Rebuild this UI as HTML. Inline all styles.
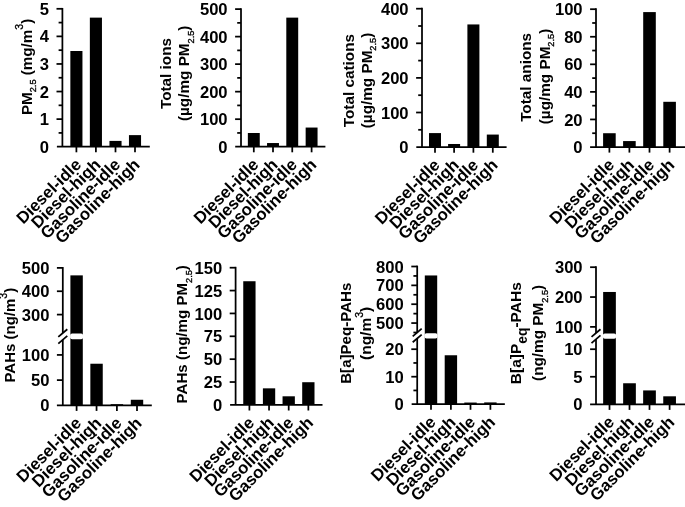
<!DOCTYPE html>
<html><head><meta charset="utf-8"><title>Figure</title>
<style>
html,body{margin:0;padding:0;background:#fff;overflow:hidden;}
svg{display:block;}
.ax{stroke:#000;stroke-width:1.75;fill:none;}
rect{fill:#000;}
rect.gap{fill:#fff;}
text{font-family:"Liberation Sans",sans-serif;font-weight:bold;fill:#000;}
.tl{text-anchor:end;}
.xl{text-anchor:end;}
.tt{text-anchor:middle;}
.sub,.sup{font-weight:normal;stroke:#000;stroke-width:0.35;}
.sub2{font-weight:bold;}
</style></head><body>
<svg width="685" height="507" viewBox="0 0 685 507">
<rect x="0" y="0" width="685" height="507" style="fill:#fff"/>
<g>
<line x1="56.9" y1="146.7" x2="149.8" y2="146.7" class="ax"/>
<line x1="62.4" y1="146.7" x2="62.4" y2="7.93" class="ax"/>
<text x="49" y="152.8" class="tl" font-size="16.6">0</text>
<line x1="56.5" y1="119.12" x2="62.4" y2="119.12" class="ax"/>
<text x="49" y="125.22" class="tl" font-size="16.6">1</text>
<line x1="56.5" y1="91.54" x2="62.4" y2="91.54" class="ax"/>
<text x="49" y="97.64" class="tl" font-size="16.6">2</text>
<line x1="56.5" y1="63.96" x2="62.4" y2="63.96" class="ax"/>
<text x="49" y="70.06" class="tl" font-size="16.6">3</text>
<line x1="56.5" y1="36.38" x2="62.4" y2="36.38" class="ax"/>
<text x="49" y="42.48" class="tl" font-size="16.6">4</text>
<line x1="56.5" y1="8.8" x2="62.4" y2="8.8" class="ax"/>
<text x="49" y="14.9" class="tl" font-size="16.6">5</text>
<line x1="58.6" y1="132.91" x2="62.4" y2="132.91" class="ax"/>
<line x1="58.6" y1="105.33" x2="62.4" y2="105.33" class="ax"/>
<line x1="58.6" y1="77.75" x2="62.4" y2="77.75" class="ax"/>
<line x1="58.6" y1="50.17" x2="62.4" y2="50.17" class="ax"/>
<line x1="58.6" y1="22.59" x2="62.4" y2="22.59" class="ax"/>
<line x1="76.4" y1="146.7" x2="76.4" y2="152.3" class="ax"/>
<rect x="70.35" y="51" width="12.1" height="95.7"/>
<text transform="translate(82.2 165.7) rotate(-45)" class="xl" font-size="16.7">Diesel-idle</text>
<line x1="95.9" y1="146.7" x2="95.9" y2="152.3" class="ax"/>
<rect x="89.85" y="17.63" width="12.1" height="129.07"/>
<text transform="translate(101.7 165.7) rotate(-45)" class="xl" font-size="16.7">Diesel-high</text>
<line x1="115.5" y1="146.7" x2="115.5" y2="152.3" class="ax"/>
<rect x="109.45" y="140.91" width="12.1" height="5.79"/>
<text transform="translate(121.3 165.7) rotate(-45)" class="xl" font-size="16.7">Gasoline-idle</text>
<line x1="135" y1="146.7" x2="135" y2="152.3" class="ax"/>
<rect x="128.95" y="135.12" width="12.1" height="11.58"/>
<text transform="translate(140.8 165.7) rotate(-45)" class="xl" font-size="16.7">Gasoline-high</text>
<text transform="translate(31.5 66.9) rotate(-90)" class="tt" font-size="15.2">PM<tspan class="sub" font-size="9.2" dy="4.6">2.5</tspan><tspan dy="-4.6"> (mg/m</tspan><tspan class="sup" font-size="10.5" dy="-8.5">3</tspan><tspan dy="8.5">)</tspan></text>
</g>
<g>
<line x1="235.2" y1="146.7" x2="325.4" y2="146.7" class="ax"/>
<line x1="241" y1="146.7" x2="241" y2="8.22" class="ax"/>
<text x="227.6" y="152.8" class="tl" font-size="16.6">0</text>
<line x1="235.1" y1="119.18" x2="241" y2="119.18" class="ax"/>
<text x="227.6" y="125.28" class="tl" font-size="16.6">100</text>
<line x1="235.1" y1="91.66" x2="241" y2="91.66" class="ax"/>
<text x="227.6" y="97.76" class="tl" font-size="16.6">200</text>
<line x1="235.1" y1="64.14" x2="241" y2="64.14" class="ax"/>
<text x="227.6" y="70.24" class="tl" font-size="16.6">300</text>
<line x1="235.1" y1="36.62" x2="241" y2="36.62" class="ax"/>
<text x="227.6" y="42.72" class="tl" font-size="16.6">400</text>
<line x1="235.1" y1="9.1" x2="241" y2="9.1" class="ax"/>
<text x="227.6" y="15.2" class="tl" font-size="16.6">500</text>
<line x1="237.2" y1="132.94" x2="241" y2="132.94" class="ax"/>
<line x1="237.2" y1="105.42" x2="241" y2="105.42" class="ax"/>
<line x1="237.2" y1="77.9" x2="241" y2="77.9" class="ax"/>
<line x1="237.2" y1="50.38" x2="241" y2="50.38" class="ax"/>
<line x1="237.2" y1="22.86" x2="241" y2="22.86" class="ax"/>
<line x1="253.8" y1="146.7" x2="253.8" y2="152.3" class="ax"/>
<rect x="247.85" y="133" width="11.9" height="13.7"/>
<text transform="translate(259.6 165.7) rotate(-45)" class="xl" font-size="16.7">Diesel-idle</text>
<line x1="273" y1="146.7" x2="273" y2="152.3" class="ax"/>
<rect x="267.05" y="143.04" width="11.9" height="3.66"/>
<text transform="translate(278.8 165.7) rotate(-45)" class="xl" font-size="16.7">Diesel-high</text>
<line x1="292.25" y1="146.7" x2="292.25" y2="152.3" class="ax"/>
<rect x="286.3" y="17.63" width="11.9" height="129.07"/>
<text transform="translate(298.05 165.7) rotate(-45)" class="xl" font-size="16.7">Gasoline-idle</text>
<line x1="311.6" y1="146.7" x2="311.6" y2="152.3" class="ax"/>
<rect x="305.65" y="127.55" width="11.9" height="19.15"/>
<text transform="translate(317.4 165.7) rotate(-45)" class="xl" font-size="16.7">Gasoline-high</text>
<text transform="translate(171 73.5) rotate(-90)" class="tt" font-size="15.3">Total ions</text>
<text transform="translate(189.2 73.3) rotate(-90)" class="tt" font-size="15.3">(µg/mg PM<tspan class="sub" font-size="9.2" dy="4.6">2.5</tspan><tspan dy="-4.6">)</tspan></text>
</g>
<g>
<line x1="416.3" y1="147.1" x2="506.6" y2="147.1" class="ax"/>
<line x1="422" y1="147.1" x2="422" y2="7.82" class="ax"/>
<text x="408.6" y="153.2" class="tl" font-size="16.6">0</text>
<line x1="416.1" y1="112.5" x2="422" y2="112.5" class="ax"/>
<text x="408.6" y="118.6" class="tl" font-size="16.6">100</text>
<line x1="416.1" y1="77.9" x2="422" y2="77.9" class="ax"/>
<text x="408.6" y="84" class="tl" font-size="16.6">200</text>
<line x1="416.1" y1="43.3" x2="422" y2="43.3" class="ax"/>
<text x="408.6" y="49.4" class="tl" font-size="16.6">300</text>
<line x1="416.1" y1="8.7" x2="422" y2="8.7" class="ax"/>
<text x="408.6" y="14.8" class="tl" font-size="16.6">400</text>
<line x1="418.2" y1="129.8" x2="422" y2="129.8" class="ax"/>
<line x1="418.2" y1="95.2" x2="422" y2="95.2" class="ax"/>
<line x1="418.2" y1="60.6" x2="422" y2="60.6" class="ax"/>
<line x1="418.2" y1="26" x2="422" y2="26" class="ax"/>
<line x1="435" y1="147.1" x2="435" y2="152.7" class="ax"/>
<rect x="429" y="133.09" width="12" height="14.01"/>
<text transform="translate(440.8 166.1) rotate(-45)" class="xl" font-size="16.7">Diesel-idle</text>
<line x1="454.1" y1="147.1" x2="454.1" y2="152.7" class="ax"/>
<rect x="448.1" y="143.99" width="12" height="3.11"/>
<text transform="translate(459.9 166.1) rotate(-45)" class="xl" font-size="16.7">Diesel-high</text>
<line x1="473.4" y1="147.1" x2="473.4" y2="152.7" class="ax"/>
<rect x="467.4" y="24.44" width="12" height="122.66"/>
<text transform="translate(479.2 166.1) rotate(-45)" class="xl" font-size="16.7">Gasoline-idle</text>
<line x1="492.8" y1="147.1" x2="492.8" y2="152.7" class="ax"/>
<rect x="486.8" y="134.57" width="12" height="12.53"/>
<text transform="translate(498.6 166.1) rotate(-45)" class="xl" font-size="16.7">Gasoline-high</text>
<text transform="translate(353.8 80.6) rotate(-90)" class="tt" font-size="15.3">Total cations</text>
<text transform="translate(371.7 80.5) rotate(-90)" class="tt" font-size="15.3">(µg/mg PM<tspan class="sub" font-size="9.2" dy="4.6">2.5</tspan><tspan dy="-4.6">)</tspan></text>
</g>
<g>
<line x1="590.1" y1="147" x2="690" y2="147" class="ax"/>
<line x1="596" y1="147" x2="596" y2="8.32" class="ax"/>
<text x="582.6" y="153.1" class="tl" font-size="16.6">0</text>
<line x1="590.1" y1="119.44" x2="596" y2="119.44" class="ax"/>
<text x="582.6" y="125.54" class="tl" font-size="16.6">20</text>
<line x1="590.1" y1="91.88" x2="596" y2="91.88" class="ax"/>
<text x="582.6" y="97.98" class="tl" font-size="16.6">40</text>
<line x1="590.1" y1="64.32" x2="596" y2="64.32" class="ax"/>
<text x="582.6" y="70.42" class="tl" font-size="16.6">60</text>
<line x1="590.1" y1="36.76" x2="596" y2="36.76" class="ax"/>
<text x="582.6" y="42.86" class="tl" font-size="16.6">80</text>
<line x1="590.1" y1="9.2" x2="596" y2="9.2" class="ax"/>
<text x="582.6" y="15.3" class="tl" font-size="16.6">100</text>
<line x1="592.2" y1="133.22" x2="596" y2="133.22" class="ax"/>
<line x1="592.2" y1="105.66" x2="596" y2="105.66" class="ax"/>
<line x1="592.2" y1="78.1" x2="596" y2="78.1" class="ax"/>
<line x1="592.2" y1="50.54" x2="596" y2="50.54" class="ax"/>
<line x1="592.2" y1="22.98" x2="596" y2="22.98" class="ax"/>
<line x1="609.4" y1="147" x2="609.4" y2="152.6" class="ax"/>
<rect x="603.1" y="133.22" width="12.6" height="13.78"/>
<text transform="translate(615.2 166) rotate(-45)" class="xl" font-size="16.7">Diesel-idle</text>
<line x1="629.4" y1="147" x2="629.4" y2="152.6" class="ax"/>
<rect x="623.1" y="141.07" width="12.6" height="5.93"/>
<text transform="translate(635.2 166) rotate(-45)" class="xl" font-size="16.7">Diesel-high</text>
<line x1="649.5" y1="147" x2="649.5" y2="152.6" class="ax"/>
<rect x="643.2" y="12.09" width="12.6" height="134.91"/>
<text transform="translate(655.3 166) rotate(-45)" class="xl" font-size="16.7">Gasoline-idle</text>
<line x1="669.6" y1="147" x2="669.6" y2="152.6" class="ax"/>
<rect x="663.3" y="101.8" width="12.6" height="45.2"/>
<text transform="translate(675.4 166) rotate(-45)" class="xl" font-size="16.7">Gasoline-high</text>
<text transform="translate(530.7 77.4) rotate(-90)" class="tt" font-size="15.3">Total anions</text>
<text transform="translate(549.5 76.5) rotate(-90)" class="tt" font-size="15.3">(µg/mg PM<tspan class="sub" font-size="9.2" dy="4.6">2.5</tspan><tspan dy="-4.6">)</tspan></text>
</g>
<g>
<line x1="56.9" y1="405.3" x2="151.8" y2="405.3" class="ax"/>
<line x1="62.8" y1="405.3" x2="62.8" y2="339.7" class="ax"/>
<text x="49.4" y="411.4" class="tl" font-size="16.6">0</text>
<line x1="56.9" y1="380.11" x2="62.8" y2="380.11" class="ax"/>
<text x="49.4" y="386.21" class="tl" font-size="16.6">50</text>
<line x1="56.9" y1="354.92" x2="62.8" y2="354.92" class="ax"/>
<text x="49.4" y="361.02" class="tl" font-size="16.6">100</text>
<line x1="62.8" y1="333" x2="62.8" y2="267.02" class="ax"/>
<line x1="56.9" y1="314.6" x2="62.8" y2="314.6" class="ax"/>
<text x="49.4" y="320.7" class="tl" font-size="16.6">300</text>
<line x1="56.9" y1="291.25" x2="62.8" y2="291.25" class="ax"/>
<text x="49.4" y="297.35" class="tl" font-size="16.6">400</text>
<line x1="56.9" y1="267.9" x2="62.8" y2="267.9" class="ax"/>
<text x="49.4" y="274" class="tl" font-size="16.6">500</text>
<line x1="76.6" y1="405.3" x2="76.6" y2="410.9" class="ax"/>
<rect x="70.4" y="275.37" width="12.4" height="129.93"/>
<rect x="70.1" y="333.6" width="13" height="5.7" rx="2" class="gap"/>
<text transform="translate(82.4 424.3) rotate(-45)" class="xl" font-size="16.7">Diesel-idle</text>
<line x1="96.55" y1="405.3" x2="96.55" y2="410.9" class="ax"/>
<rect x="90.35" y="363.73" width="12.4" height="41.57"/>
<text transform="translate(102.35 424.3) rotate(-45)" class="xl" font-size="16.7">Diesel-high</text>
<line x1="116.9" y1="405.3" x2="116.9" y2="410.9" class="ax"/>
<rect x="110.7" y="404.19" width="12.4" height="1.11"/>
<text transform="translate(122.7 424.3) rotate(-45)" class="xl" font-size="16.7">Gasoline-idle</text>
<line x1="137" y1="405.3" x2="137" y2="410.9" class="ax"/>
<rect x="130.8" y="399.76" width="12.4" height="5.54"/>
<text transform="translate(142.8 424.3) rotate(-45)" class="xl" font-size="16.7">Gasoline-high</text>
<line x1="58.3" y1="336.95" x2="67.3" y2="329.25" class="ax"/>
<line x1="58.3" y1="343.55" x2="67.3" y2="335.85" class="ax"/>
<text transform="translate(15.2 335.2) rotate(-90)" class="tt" font-size="15">PAHs (ng/m<tspan class="sup" font-size="10.5" dy="-8.5">3</tspan><tspan dy="8.5">)</tspan></text>
</g>
<g>
<line x1="230.1" y1="404.9" x2="322.5" y2="404.9" class="ax"/>
<line x1="235.6" y1="404.9" x2="235.6" y2="266.82" class="ax"/>
<text x="222.2" y="411" class="tl" font-size="16.6">0</text>
<line x1="229.7" y1="382.03" x2="235.6" y2="382.03" class="ax"/>
<text x="222.2" y="388.13" class="tl" font-size="16.6">25</text>
<line x1="229.7" y1="359.17" x2="235.6" y2="359.17" class="ax"/>
<text x="222.2" y="365.27" class="tl" font-size="16.6">50</text>
<line x1="229.7" y1="336.3" x2="235.6" y2="336.3" class="ax"/>
<text x="222.2" y="342.4" class="tl" font-size="16.6">75</text>
<line x1="229.7" y1="313.43" x2="235.6" y2="313.43" class="ax"/>
<text x="222.2" y="319.53" class="tl" font-size="16.6">100</text>
<line x1="229.7" y1="290.57" x2="235.6" y2="290.57" class="ax"/>
<text x="222.2" y="296.67" class="tl" font-size="16.6">125</text>
<line x1="229.7" y1="267.7" x2="235.6" y2="267.7" class="ax"/>
<text x="222.2" y="273.8" class="tl" font-size="16.6">150</text>
<line x1="249.4" y1="404.9" x2="249.4" y2="410.5" class="ax"/>
<rect x="243.25" y="281.24" width="12.3" height="123.66"/>
<text transform="translate(255.2 423.9) rotate(-45)" class="xl" font-size="16.7">Diesel-idle</text>
<line x1="269.05" y1="404.9" x2="269.05" y2="410.5" class="ax"/>
<rect x="262.9" y="388.34" width="12.3" height="16.56"/>
<text transform="translate(274.85 423.9) rotate(-45)" class="xl" font-size="16.7">Diesel-high</text>
<line x1="288.7" y1="404.9" x2="288.7" y2="410.5" class="ax"/>
<rect x="282.55" y="396.3" width="12.3" height="8.6"/>
<text transform="translate(294.5 423.9) rotate(-45)" class="xl" font-size="16.7">Gasoline-idle</text>
<line x1="308.35" y1="404.9" x2="308.35" y2="410.5" class="ax"/>
<rect x="302.2" y="382.22" width="12.3" height="22.68"/>
<text transform="translate(314.15 423.9) rotate(-45)" class="xl" font-size="16.7">Gasoline-high</text>
<text transform="translate(187.2 334.3) rotate(-90)" class="tt" font-size="15.1">PAHs (ng/mg PM<tspan class="sub" font-size="9.2" dy="4.6">2.5</tspan><tspan dy="-4.6">)</tspan></text>
</g>
<g>
<line x1="411.65" y1="404.2" x2="504.85" y2="404.2" class="ax"/>
<line x1="417.2" y1="404.2" x2="417.2" y2="338.4" class="ax"/>
<text x="403.8" y="410.3" class="tl" font-size="16.6">0</text>
<line x1="411.3" y1="376.7" x2="417.2" y2="376.7" class="ax"/>
<text x="403.8" y="382.8" class="tl" font-size="16.6">10</text>
<line x1="411.3" y1="349.21" x2="417.2" y2="349.21" class="ax"/>
<text x="403.8" y="355.31" class="tl" font-size="16.6">20</text>
<line x1="413.4" y1="390.45" x2="417.2" y2="390.45" class="ax"/>
<line x1="413.4" y1="362.95" x2="417.2" y2="362.95" class="ax"/>
<line x1="417.2" y1="332.5" x2="417.2" y2="265.62" class="ax"/>
<line x1="411.3" y1="323.07" x2="417.2" y2="323.07" class="ax"/>
<text x="403.8" y="329.17" class="tl" font-size="16.6">500</text>
<line x1="411.3" y1="304.21" x2="417.2" y2="304.21" class="ax"/>
<text x="403.8" y="310.31" class="tl" font-size="16.6">600</text>
<line x1="411.3" y1="285.36" x2="417.2" y2="285.36" class="ax"/>
<text x="403.8" y="291.46" class="tl" font-size="16.6">700</text>
<line x1="411.3" y1="266.5" x2="417.2" y2="266.5" class="ax"/>
<text x="403.8" y="272.6" class="tl" font-size="16.6">800</text>
<line x1="413.4" y1="332.5" x2="417.2" y2="332.5" class="ax"/>
<line x1="413.4" y1="313.64" x2="417.2" y2="313.64" class="ax"/>
<line x1="413.4" y1="294.79" x2="417.2" y2="294.79" class="ax"/>
<line x1="413.4" y1="275.93" x2="417.2" y2="275.93" class="ax"/>
<line x1="431" y1="404.2" x2="431" y2="409.8" class="ax"/>
<rect x="424.8" y="275.46" width="12.4" height="128.74"/>
<rect x="424.5" y="333.2" width="13" height="5.3" rx="2" class="gap"/>
<text transform="translate(436.8 423.2) rotate(-45)" class="xl" font-size="16.7">Diesel-idle</text>
<line x1="450.9" y1="404.2" x2="450.9" y2="409.8" class="ax"/>
<rect x="444.7" y="355.26" width="12.4" height="48.94"/>
<text transform="translate(456.7 423.2) rotate(-45)" class="xl" font-size="16.7">Diesel-high</text>
<line x1="470.5" y1="404.2" x2="470.5" y2="409.8" class="ax"/>
<rect x="464.3" y="402.55" width="12.4" height="1.65"/>
<text transform="translate(476.3 423.2) rotate(-45)" class="xl" font-size="16.7">Gasoline-idle</text>
<line x1="490.4" y1="404.2" x2="490.4" y2="409.8" class="ax"/>
<rect x="484.2" y="402.41" width="12.4" height="1.79"/>
<text transform="translate(496.2 423.2) rotate(-45)" class="xl" font-size="16.7">Gasoline-high</text>
<line x1="412.7" y1="336.35" x2="421.7" y2="328.65" class="ax"/>
<line x1="412.7" y1="342.25" x2="421.7" y2="334.55" class="ax"/>
<text transform="translate(351.1 333.2) rotate(-90)" class="tt" font-size="15.1">B[a]Peq-PAHs</text>
<text transform="translate(371 333.4) rotate(-90)" class="tt" font-size="15.5">(ng/m<tspan class="sup" font-size="10.5" dy="-8.5">3</tspan><tspan dy="8.5">)</tspan></text>
</g>
<g>
<line x1="590.1" y1="404.3" x2="690" y2="404.3" class="ax"/>
<line x1="596" y1="404.3" x2="596" y2="339.3" class="ax"/>
<text x="582.6" y="410.4" class="tl" font-size="16.6">0</text>
<line x1="590.1" y1="376.76" x2="596" y2="376.76" class="ax"/>
<text x="582.6" y="382.86" class="tl" font-size="16.6">5</text>
<line x1="590.1" y1="349.22" x2="596" y2="349.22" class="ax"/>
<text x="582.6" y="355.32" class="tl" font-size="16.6">10</text>
<line x1="596" y1="333.1" x2="596" y2="266.32" class="ax"/>
<line x1="590.1" y1="326.89" x2="596" y2="326.89" class="ax"/>
<text x="582.6" y="332.99" class="tl" font-size="16.6">100</text>
<line x1="590.1" y1="297.05" x2="596" y2="297.05" class="ax"/>
<text x="582.6" y="303.15" class="tl" font-size="16.6">200</text>
<line x1="590.1" y1="267.2" x2="596" y2="267.2" class="ax"/>
<text x="582.6" y="273.3" class="tl" font-size="16.6">300</text>
<line x1="609.5" y1="404.3" x2="609.5" y2="409.9" class="ax"/>
<rect x="603.15" y="291.97" width="12.7" height="112.33"/>
<rect x="602.85" y="333.4" width="13.3" height="5.3" rx="2" class="gap"/>
<text transform="translate(615.3 423.3) rotate(-45)" class="xl" font-size="16.7">Diesel-idle</text>
<line x1="629.5" y1="404.3" x2="629.5" y2="409.9" class="ax"/>
<rect x="623.15" y="383.26" width="12.7" height="21.04"/>
<text transform="translate(635.3 423.3) rotate(-45)" class="xl" font-size="16.7">Diesel-high</text>
<line x1="649.5" y1="404.3" x2="649.5" y2="409.9" class="ax"/>
<rect x="643.15" y="390.42" width="12.7" height="13.88"/>
<text transform="translate(655.3 423.3) rotate(-45)" class="xl" font-size="16.7">Gasoline-idle</text>
<line x1="669.6" y1="404.3" x2="669.6" y2="409.9" class="ax"/>
<rect x="663.25" y="396.31" width="12.7" height="7.99"/>
<text transform="translate(675.4 423.3) rotate(-45)" class="xl" font-size="16.7">Gasoline-high</text>
<line x1="591.5" y1="336.95" x2="600.5" y2="329.25" class="ax"/>
<line x1="591.5" y1="343.15" x2="600.5" y2="335.45" class="ax"/>
<text transform="translate(521.3 333.2) rotate(-90)" class="tt" font-size="15.5">B[a]P<tspan class="sub2" font-size="13.8" dy="6.0">eq</tspan><tspan dy="-6.0">-PAHs</tspan></text>
<text transform="translate(543.4 332.9) rotate(-90)" class="tt" font-size="15.3">(ng/mg PM<tspan class="sub" font-size="9.2" dy="4.6">2.5</tspan><tspan dy="-4.6">)</tspan></text>
</g>
</svg>
</body></html>
